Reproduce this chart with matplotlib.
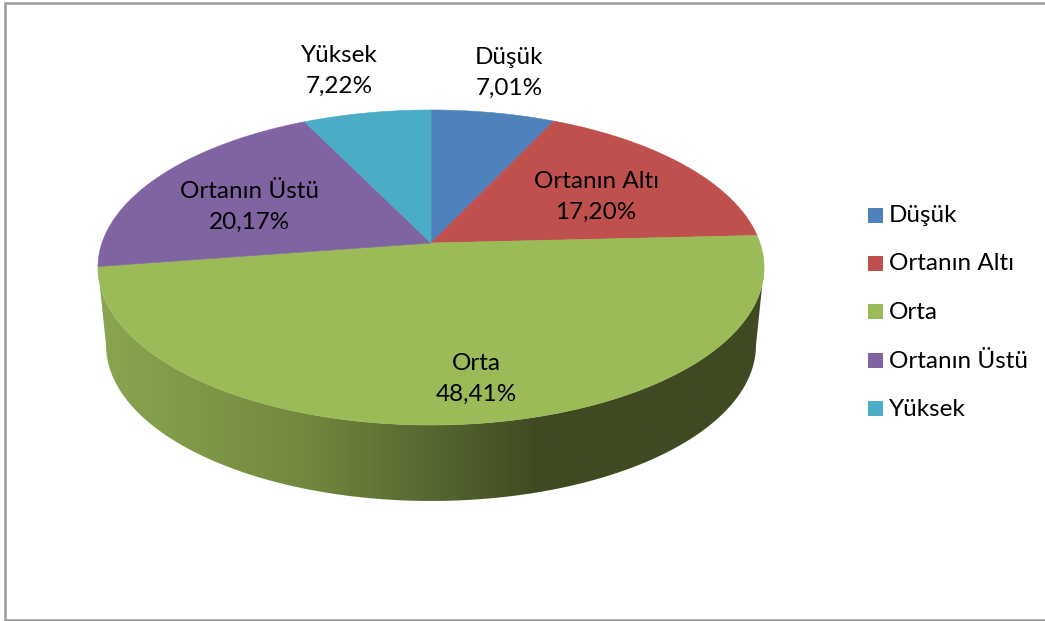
#!/usr/bin/env python
# -*- coding: utf-8 -*-
import numpy as np
import matplotlib
matplotlib.use('Agg')
import matplotlib.pyplot as plt
from matplotlib.colors import LinearSegmentedColormap
from matplotlib.patches import Polygon, Rectangle

categories = ['Düşük', 'Ortanın Altı', 'Orta', 'Ortanın Üstü', 'Yüksek']
shares = [7.01, 17.20, 48.41, 20.17, 7.22]
share_labels = ['7,01%', '17,20%', '48,41%', '20,17%', '7,22%']
colors = ['#4f81bd', '#c0504d', '#9bbb59', '#8064a2', '#4bacc6']

# label centres, pixels
label_pos = [(509, 73), (596, 197), (476, 379), (250, 207), (339, 71)]

W, H = 1045, 621
K = 0.1556


def rim(theta, cx, c, a, b):
    # perspective circle: theta clockwise from the back of the pie
    u, v = np.sin(theta), np.cos(theta)
    return cx + c * u / (1 + K * v), (a + b * v) / (1 + K * v)


def top_rim(theta):
    return rim(theta, 431, 329, 243, -115.9)


def bottom_rim(theta):
    return rim(theta, 431, 321, 321, -102)


plt.rcParams['font.family'] = ['Lato', 'DejaVu Sans']
fig = plt.figure(figsize=(W / 100, H / 100), dpi=100)
ax = fig.add_axes([0, 0, 1, 1])
ax.set_xlim(0, W)
ax.set_ylim(H, 0)
ax.axis('off')

# chart frame
ax.plot([1047, 5, 5, 1047], [2.5, 2.5, 620, 620], color='#9c9c9c', lw=1.8, solid_joinstyle='miter')

# side wall with the horizontal shading
edge = np.arccos(-K)
front = np.linspace(edge, 2 * np.pi - edge, 300)
tx, ty = top_rim(front)
bx, by = bottom_rim(front)
wall = Polygon(np.r_[np.c_[tx, ty], np.c_[bx, by][::-1]], closed=True, fc='none', ec='none')
ax.add_patch(wall)
stops = [(0.0, '#8aa650'), (0.30, '#74893f'), (0.50, '#566830'), (0.66, '#404a22'), (1.0, '#3f4a22')]
shade = LinearSegmentedColormap.from_list('wall', stops)
img = ax.imshow(np.linspace(0, 1, 700)[None, :], cmap=shade, extent=(98, 764, 520, 200),
                aspect='auto', zorder=1)
img.set_clip_path(wall)
ax.set_xlim(0, W)
ax.set_ylim(H, 0)

# top face
ends = np.cumsum(shares) / np.sum(shares) * 2 * np.pi
starts = np.r_[0, ends[:-1]]
for start, end, color in zip(starts, ends, colors):
    t = np.linspace(start, end, 200)
    x, y = top_rim(t)
    ax.add_patch(Polygon(np.r_[[[431, 243]], np.c_[x, y]], closed=True, fc=color, ec=color,
                         lw=0.4, zorder=2))

for name, label, (x, y) in zip(categories, share_labels, label_pos):
    ax.text(x, y, name + '\n' + label, ha='center', va='center', fontsize=17.5, color='black',
            linespacing=1.62, zorder=3)

# legend
for name, color, y in zip(categories, colors, [215, 263, 311.5, 360, 408]):
    ax.add_patch(Rectangle((868, y - 7.5), 15, 15, fc=color, ec='none', zorder=3))
    ax.text(889, y + 1, name, ha='left', va='center', fontsize=17.5, color='black', zorder=3)

fig.savefig('out.png', dpi=100)
